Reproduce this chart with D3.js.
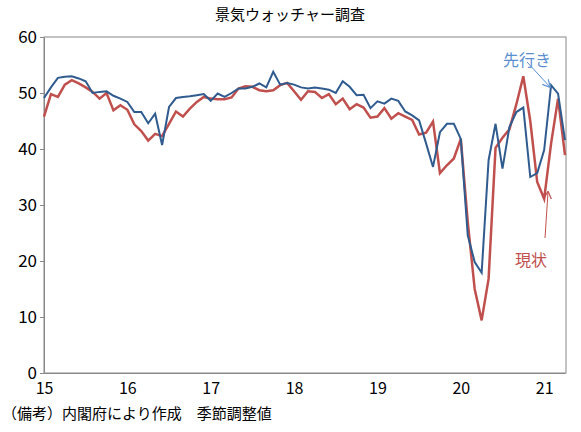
<!DOCTYPE html>
<html><head><meta charset="utf-8">
<script src="https://cdn.jsdelivr.net/npm/d3@7"></script>
<style>body{margin:0;background:#fff}text{font-family:"Noto Sans CJK JP",sans-serif}</style>
</head><body><div id="container"></div>
<script>
const current = [45.8,49.8,49.3,51.5,52.3,51.7,51.0,50.2,49.0,50.0,46.9,47.8,
  47.0,44.4,43.2,41.5,42.7,42.3,44.5,46.7,45.8,47.2,48.4,49.3,
  49.0,48.9,48.9,49.2,50.8,51.2,51.1,50.5,50.3,50.5,51.4,51.8,
  50.3,48.8,50.3,50.2,49.1,49.8,48.0,49.0,47.1,48.0,47.4,45.6,
  45.8,47.3,45.4,46.4,45.8,45.2,42.6,42.9,44.9,35.7,37.1,38.3,
  41.8,27.0,15.0,9.4,16.8,40.2,42.0,43.5,48.0,53.0,45.0,34.1,
  31.1,41.0,49.0,38.9];
const outlook = [49.1,51.0,52.7,52.9,53.0,52.6,52.1,50.0,50.2,50.3,49.5,49.0,
  48.4,46.6,46.6,44.6,46.3,40.7,47.5,49.1,49.3,49.4,49.6,49.8,
  48.6,49.9,49.3,50.0,50.8,50.8,51.1,51.7,51.0,53.8,51.5,51.8,
  51.5,51.0,50.8,51.0,50.8,50.6,50.0,52.1,51.1,49.6,49.7,47.3,
  48.5,48.1,49.0,48.6,46.7,46.0,45.1,41.0,36.8,43.0,44.5,44.5,
  41.8,24.6,19.8,17.9,38.0,44.5,36.5,43.9,46.6,47.4,35.0,35.7,
  39.8,51.4,49.9,41.6];
const yearLabels = ["15","16","17","18","19","20","21"];
const yTicks = [0,10,20,30,40,50,60];

const width = 581, height = 432;
const mLeft = 44, mRight = 566, mTop = 37, mBottom = 373;
const svg = d3.select("#container").append("svg").attr("width", width).attr("height", height);

const x = d3.scaleLinear().domain([0, current.length - 1]).range([mLeft, mRight - 1]);
const y = d3.scaleLinear().domain([0, 60]).range([mBottom, mTop]);

svg.append("rect").attr("x", mLeft).attr("y", mTop).attr("width", mRight - mLeft).attr("height", mBottom - mTop)
  .attr("fill", "none").attr("stroke", "#888").attr("stroke-width", 1);

svg.append("g").attr("transform", `translate(${mLeft},0)`)
  .call(d3.axisLeft(y).tickValues(yTicks).tickSize(4).tickSizeOuter(0))
  .call(g => g.selectAll("text").attr("font-size", 17).attr("fill", "#000").attr("font-family", "Liberation Sans Narrow, Liberation Sans, sans-serif"))
  .call(g => g.selectAll("line,path").attr("stroke", "#888"));

svg.append("g").attr("transform", `translate(0,${mBottom})`)
  .call(d3.axisBottom(x).tickValues(yearLabels.map((d, i) => i * 12)).tickFormat((d, i) => yearLabels[i]).tickSize(0).tickPadding(10))
  .call(g => g.selectAll("text").attr("font-size", 16).attr("fill", "#000").attr("font-family", "Liberation Sans Narrow, Liberation Sans, sans-serif"))
  .call(g => g.select("path").attr("stroke", "#888"));

const line = d3.line().x((d, i) => x(i)).y(d => y(d));
svg.append("path").datum(current).attr("d", line).attr("fill", "none").attr("stroke", "#c0504d").attr("stroke-width", 2.5);
svg.append("path").datum(outlook).attr("d", line).attr("fill", "none").attr("stroke", "#2f5b8f").attr("stroke-width", 2);

svg.append("text").attr("x", 290).attr("y", 20).attr("text-anchor", "middle").attr("font-size", 15).text("景気ウォッチャー調査");
svg.append("text").attr("x", 2).attr("y", 419).attr("font-size", 15).text("（備考）内閣府により作成　季節調整値");

const defs = svg.append("defs");
[["ab", "#5b8fd0"], ["ar", "#c0504d"]].forEach(([id, c]) => {
  defs.append("marker").attr("id", id).attr("viewBox", "0 0 10 10").attr("refX", 9).attr("refY", 5)
    .attr("markerWidth", 8).attr("markerHeight", 8).attr("orient", "auto")
    .append("path").attr("d", "M0,0L10,5L0,10").attr("fill", "none").attr("stroke", c).attr("stroke-width", 1.5);
});
svg.append("text").attr("x", 503).attr("y", 66).attr("font-size", 16).attr("fill", "#5b8fd0").text("先行き");
svg.append("line").attr("x1", 527).attr("y1", 62).attr("x2", 550).attr("y2", 87).attr("stroke", "#5b8fd0").attr("marker-end", "url(#ab)");
svg.append("text").attr("x", 515).attr("y", 266).attr("font-size", 16).attr("fill", "#c0504d").text("現状");
svg.append("line").attr("x1", 545).attr("y1", 238).attr("x2", 548).attr("y2", 192).attr("stroke", "#c0504d").attr("marker-end", "url(#ar)");
</script></body></html>
